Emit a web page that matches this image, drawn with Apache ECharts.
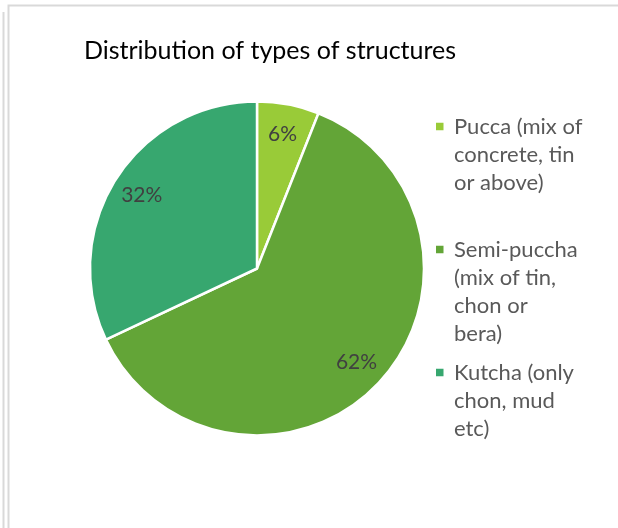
<!DOCTYPE html>
<html>
<head>
<meta charset="utf-8">
<script src="https://cdn.jsdelivr.net/npm/echarts@6/dist/echarts.min.js"></script>
<style>
html,body{margin:0;padding:0;background:#fff;}
#chart{width:618px;height:528px;}
</style>
</head>
<body>
<div id="chart"></div>
<script>
const titleText = 'Distribution of types of structures';
const categories = [
  'Pucca (mix of\nconcrete, tin\nor above)',
  'Semi-puccha\n(mix of tin,\nchon or\nbera)',
  'Kutcha (only\nchon, mud\netc)'
];
const values = [6, 62, 32];
const colors = ['#99CB38', '#63A537', '#37A76F'];

const chart = echarts.init(document.getElementById('chart'), null, {renderer: 'canvas'});
const FONT = 'Lato';
const LH = 28;
const firstRowCenters = [126.5, 249.5, 372.5];

const data = categories.map((c, i) => ({name: c, value: values[i], itemStyle: {color: colors[i]}}));

const legends = categories.map((c, i) => {
  const n = c.split('\n').length;
  const H = n * LH;
  const sq = 7.5;
  const y0 = LH / 2 - sq / 2;
  const icon = 'path://M0,' + y0 + ' h' + sq + ' v' + sq + ' h-' + sq + ' Z ' +
    'M0,0 h0.01 v0.01 h-0.01 Z M13,' + H + ' h-0.01 v-0.01 h0.01 Z';
  return {
    data: [c],
    orient: 'vertical',
    left: 436,
    top: firstRowCenters[i] - LH / 2,
    padding: 0,
    itemWidth: 13,
    itemHeight: H,
    itemGap: 0,
    icon: icon,
    selectedMode: false,
    itemStyle: {borderWidth: 0},
    textStyle: {
      fontFamily: FONT,
      fontSize: 22,
      color: '#595959',
      lineHeight: LH
    }
  };
});

chart.setOption({
  animation: false,
  backgroundColor: '#ffffff',
  title: {
    text: titleText,
    left: 270,
    textAlign: 'center',
    top: 38,
    padding: 0,
    textStyle: {fontFamily: FONT, fontSize: 25, fontWeight: 'normal', color: '#000000'}
  },
  legend: legends,
  graphic: [
    {type: 'line', shape: {x1: 3.5, y1: 12, x2: 3.5, y2: 528}, style: {stroke: '#d9d9d9', lineWidth: 2}, silent: true},
    {type: 'rect', shape: {x: 8.5, y: 5.5, width: 640, height: 560}, style: {fill: null, stroke: '#d9d9d9', lineWidth: 2}, silent: true}
  ],
  series: [
    {
      type: 'pie',
      center: [257, 268.5],
      radius: [0, 167],
      startAngle: 90,
      clockwise: true,
      data: data,
      label: {show: false},
      labelLine: {show: false},
      itemStyle: {borderColor: '#ffffff', borderWidth: 2.5},
      emphasis: {disabled: true},
      silent: true
    },
    {
      type: 'pie',
      center: [257, 268.5],
      radius: [100, 167],
      startAngle: 90,
      clockwise: true,
      data: data.map(d => ({name: d.name, value: d.value})),
      itemStyle: {color: 'rgba(0,0,0,0)', borderWidth: 0},
      label: {
        show: true,
        position: 'inside',
        formatter: p => p.value + '%',
        fontFamily: FONT,
        fontSize: 21,
        color: '#404040'
      },
      labelLine: {show: false},
      emphasis: {disabled: true},
      silent: true
    }
  ]
});
</script>
</body>
</html>
